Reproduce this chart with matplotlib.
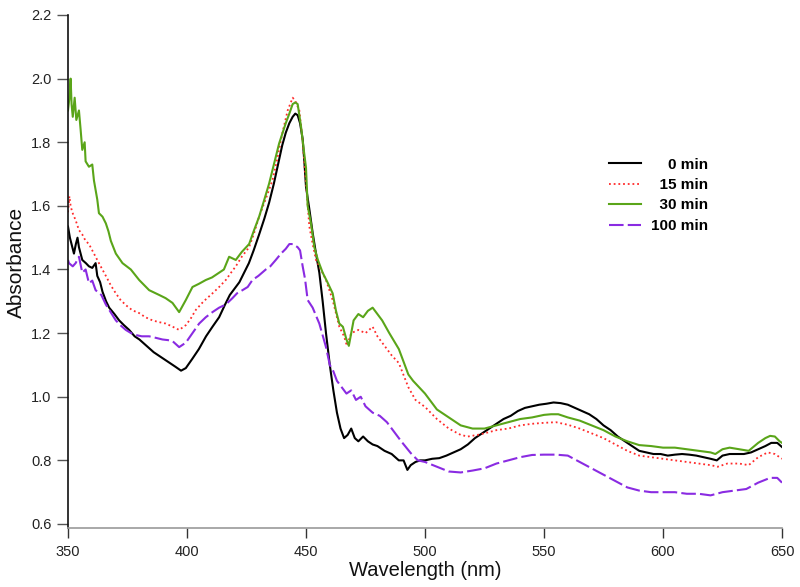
import matplotlib
matplotlib.use("Agg")
import matplotlib.pyplot as plt

plt.rcParams['font.family'] = ['Liberation Sans', 'DejaVu Sans']

# ---------------- data ----------------
wl_0 = [350, 350.8, 351.8, 352.5, 353.3, 354, 354.6, 356, 357.5, 358.8, 360.2, 361.6, 362.3, 363.5,
        364.5, 366, 367.3, 369.5, 371.5, 373.5, 375.7, 378, 380, 383, 386, 389, 392, 395, 397.5,
        399.5, 402.3, 405, 408, 410.7, 413.5, 416, 418, 420, 422, 424, 426, 428, 430.3, 432.5,
        434.5, 436.5, 438.7, 440, 441.5, 443, 444.4, 445.5, 446.5, 447.5, 448.6, 449.3, 450, 451.4,
        452.8, 454.2, 455.6, 457, 458.4, 460, 461.5, 463, 464.5, 466, 467.5, 469, 470.5, 472, 474,
        476, 478, 480, 483, 486, 489, 491, 492.6, 494, 496, 498, 500, 503, 506, 509, 512, 515, 518,
        521, 524, 527, 530, 533, 536, 539, 542, 545, 548, 551, 554, 557, 560, 563, 566, 569, 572,
        575, 578, 581, 584, 587, 590, 593, 596, 599, 602, 605, 608, 611, 614, 617, 620, 622.6, 625,
        628, 631, 634, 637, 640, 643, 645.5, 648, 650]
abs_0 = [1.535, 1.50, 1.47, 1.45, 1.48, 1.50, 1.47, 1.43, 1.42, 1.41, 1.405, 1.42, 1.38, 1.36,
         1.33, 1.30, 1.28, 1.26, 1.24, 1.225, 1.21, 1.19, 1.18, 1.16, 1.14, 1.125, 1.11, 1.095, 1.082,
         1.09, 1.12, 1.15, 1.19, 1.22, 1.25, 1.29, 1.32, 1.34, 1.36, 1.39, 1.42, 1.46, 1.51, 1.56,
         1.61, 1.67, 1.745, 1.79, 1.83, 1.86, 1.88, 1.89, 1.885, 1.86, 1.81, 1.74, 1.66, 1.59,
         1.515, 1.45, 1.39, 1.30, 1.20, 1.10, 1.02, 0.95, 0.90, 0.87, 0.88, 0.90, 0.87, 0.86, 0.875,
         0.86, 0.85, 0.845, 0.83, 0.82, 0.80, 0.80, 0.77, 0.785, 0.795, 0.80, 0.80, 0.805, 0.807, 0.815,
         0.825, 0.835, 0.85, 0.87, 0.885, 0.90, 0.915, 0.93, 0.94, 0.955, 0.965, 0.97, 0.975, 0.978,
         0.982, 0.98, 0.975, 0.965, 0.955, 0.945, 0.93, 0.91, 0.895, 0.875, 0.86, 0.845, 0.83, 0.825,
         0.82, 0.82, 0.815, 0.818, 0.82, 0.818, 0.815, 0.81, 0.805, 0.80, 0.815, 0.82, 0.82, 0.82,
         0.825, 0.835, 0.845, 0.855, 0.855, 0.842]

wl_15 = [350, 350.6, 351.1, 351.8, 353.2, 354.6, 356, 357.4, 358.8, 360.2, 361.6, 363, 365.9, 368,
         370.1, 372, 374.3, 377, 379.9, 382.5, 385.5, 388, 391.1, 394, 396.7, 399.5, 401.5, 403.7,
         407, 410.7, 413.5, 416.3, 418.5, 420.5, 423, 426.1, 428, 430.3, 433, 435.9, 438, 440.1, 442.3,
         444.4, 445.5, 447.2, 448.6, 450, 451.4, 452.8, 454.2, 456.3, 458.4, 461.2, 464, 466, 467.2,
         469, 472, 475, 478, 480, 483, 486, 489, 493, 496, 500, 505, 510, 515, 518, 522, 525, 530, 535,
         540, 545, 550, 555, 560, 565, 570, 575, 580, 585, 590, 595, 600, 605, 610, 615, 620, 623, 627,
         632, 636, 640, 644, 647, 650]
abs_15 = [1.58, 1.63, 1.60, 1.58, 1.555, 1.524, 1.51, 1.49, 1.48, 1.46, 1.44, 1.42, 1.38, 1.35,
          1.325, 1.305, 1.288, 1.272, 1.263, 1.25, 1.24, 1.235, 1.23, 1.22, 1.21, 1.225, 1.245, 1.273,
          1.30, 1.325, 1.345, 1.367, 1.39, 1.41, 1.44, 1.47, 1.51, 1.566, 1.62, 1.68, 1.75, 1.83, 1.90,
          1.94, 1.93, 1.90, 1.80, 1.67, 1.535, 1.48, 1.43, 1.40, 1.367, 1.304, 1.22, 1.19, 1.16,
          1.20, 1.21, 1.20, 1.22, 1.19, 1.16, 1.13, 1.106, 1.03, 0.99, 0.968, 0.93, 0.90, 0.88, 0.875,
          0.88, 0.885, 0.895, 0.90, 0.91, 0.915, 0.918, 0.92, 0.912, 0.90, 0.885, 0.87, 0.85, 0.83,
          0.815, 0.81, 0.805, 0.80, 0.795, 0.79, 0.785, 0.78, 0.79, 0.79, 0.785, 0.81, 0.825, 0.82, 0.805]

wl_30 = [350, 350.6, 351.1, 351.5, 352, 352.8, 353.5, 354.6, 355.3, 356, 357, 357.4, 358.8, 360.2,
         360.9, 362.3, 363, 364.5, 365.9, 367, 368, 370.1, 372.9, 376.4, 379.9, 384.1, 388.3, 391,
         393.9, 396.7, 399.5, 402.3, 405, 407.9, 410.5, 413.5, 415.5, 417.7, 420.5, 423, 426.1, 428,
         430.3, 432.5, 434.5, 436.5, 438.7, 441.5, 443, 444.4, 445.5, 446.5, 447.9, 449, 450, 450.7,
         452.1, 453.5, 455, 457, 459, 461.2, 462.6, 464, 465.5, 467, 468, 469, 470, 472, 474, 476,
         478, 480, 482, 485, 489, 493, 495, 500, 505, 510, 515, 520, 525, 530, 535, 540, 545, 550,
         553, 556, 560, 565, 570, 575, 580, 585, 590, 595, 600, 605, 610, 615, 620, 622, 625, 628, 632,
         636, 640, 643, 645, 647, 649, 650]
abs_30 = [1.90, 1.94, 2.00, 1.92, 1.88, 1.94, 1.87, 1.90, 1.84, 1.776, 1.80, 1.74, 1.723, 1.73,
          1.68, 1.62, 1.577, 1.566, 1.545, 1.52, 1.49, 1.45, 1.42, 1.40, 1.367, 1.335, 1.32, 1.31,
          1.295, 1.266, 1.304, 1.345, 1.355, 1.367, 1.375, 1.39, 1.40, 1.44, 1.43, 1.455, 1.48, 1.52,
          1.566, 1.62, 1.67, 1.73, 1.796, 1.86, 1.89, 1.92, 1.925, 1.92, 1.85, 1.78, 1.72, 1.60,
          1.545, 1.47, 1.43, 1.39, 1.36, 1.325, 1.27, 1.23, 1.22, 1.18, 1.16, 1.20, 1.24, 1.26, 1.25,
          1.27, 1.28, 1.26, 1.24, 1.20, 1.15, 1.07, 1.05, 1.01, 0.96, 0.935, 0.91, 0.90, 0.90, 0.91,
          0.92, 0.93, 0.935, 0.943, 0.945, 0.945, 0.935, 0.925, 0.91, 0.895, 0.875, 0.86, 0.848, 0.845,
          0.84, 0.84, 0.835, 0.83, 0.825, 0.82, 0.835, 0.84, 0.835, 0.83, 0.855, 0.87, 0.877, 0.875,
          0.86, 0.855]

wl_100 = [350, 350.4, 352, 353.2, 354.6, 356, 357.4, 358.8, 360.2, 361.6, 364, 365.9, 368, 370.1,
          372, 374.3, 376.5, 378.5, 381, 384.1, 387, 389.7, 392, 393.9, 396.7, 399.5, 402.3, 405.1,
          407.9, 410.7, 413.5, 416.3, 419.1, 421, 423.3, 425.5, 427.5, 430, 433.1, 435, 437.3, 439.5,
          441.5, 443, 444.4, 445.5, 446.5, 447.5, 448.6, 449.6, 450.7, 452.8, 455.6, 458.4, 460, 461.5,
          463, 465, 467, 469, 471, 473, 475, 478, 481, 484, 487, 490, 494, 497, 500, 505, 510, 515,
          520, 525, 530, 535, 540, 545, 550, 555, 560, 565, 570, 575, 580, 585, 590, 595, 600, 605, 610,
          615, 620, 625, 630, 635, 640, 645, 648, 650]
abs_100 = [1.43, 1.42, 1.41, 1.42, 1.44, 1.39, 1.40, 1.357, 1.365, 1.335, 1.32, 1.29, 1.265, 1.24,
           1.225, 1.21, 1.20, 1.194, 1.19, 1.19, 1.185, 1.18, 1.178, 1.175, 1.156, 1.17, 1.20, 1.23,
           1.25, 1.266, 1.28, 1.29, 1.31, 1.325, 1.335, 1.345, 1.367, 1.38, 1.40, 1.41, 1.43, 1.45,
           1.465, 1.48, 1.48, 1.475, 1.47, 1.46, 1.41, 1.37, 1.304, 1.28, 1.23, 1.156, 1.10, 1.08,
           1.05, 1.03, 1.01, 1.02, 0.99, 1.00, 0.97, 0.95, 0.94, 0.92, 0.89, 0.86, 0.823, 0.80, 0.795,
           0.78, 0.765, 0.762, 0.768, 0.775, 0.79, 0.80, 0.81, 0.817, 0.818, 0.818, 0.815, 0.795, 0.775,
           0.755, 0.735, 0.715, 0.705, 0.70, 0.70, 0.70, 0.695, 0.695, 0.69, 0.70, 0.705, 0.71, 0.73,
           0.745, 0.745, 0.73]

legend_labels = ["\u2007\u20070 min", "\u200715 min", "\u200730 min", "100 min"]
x_ticks = [350, 400, 450, 500, 550, 600, 650]
y_ticks = [0.6, 0.8, 1.0, 1.2, 1.4, 1.6, 1.8, 2.0, 2.2]

# ---------------- figure ----------------
W, H = 800, 587
fig = plt.figure(figsize=(W / 100, H / 100), dpi=100)
ax = fig.add_axes([68 / W, 1 - 528 / H, (782 - 68) / W, (528 - 15) / H])

ax.plot(wl_0, abs_0, color='black', lw=1.5, label=legend_labels[0])
ax.plot(wl_15, abs_15, color='#ff2a2a', lw=1.3, linestyle=(0, (1, 1.6)), label=legend_labels[1])
ax.plot(wl_30, abs_30, color='#5aa519', lw=1.5, label=legend_labels[2])
ax.plot(wl_100, abs_100, color='#8a2be2', lw=1.5, linestyle=(0, (7, 2)), label=legend_labels[3])

ax.set_xlim(350, 650)
ax.set_ylim(0.6 - 4 / 318, 2.2)
ax.set_xticks(x_ticks)
ax.set_xticklabels([str(v) for v in x_ticks])
ax.set_yticks(y_ticks)
ax.set_yticklabels([f"{v:.1f}" for v in y_ticks])

for s in ('top', 'right'):
    ax.spines[s].set_visible(False)
ax.spines['left'].set_color('#111111')
ax.spines['left'].set_linewidth(1.2)
ax.spines['bottom'].set_color('#9a9a9a')
ax.spines['bottom'].set_linewidth(1.2)

ax.tick_params(axis='y', direction='out', length=8, width=1.0, color='#555555',
               labelsize=10.5, pad=4, labelcolor='#222222')
ax.tick_params(axis='x', direction='out', length=7.5, width=1.0, color='#333333',
               labelsize=10.5, pad=5, labelcolor='#222222')

ax.set_xlabel("Wavelength (nm)", fontsize=14.5, labelpad=1, color='#111111')
ax.set_ylabel("Absorbance", fontsize=15, labelpad=1.5, color='#111111')
ax.yaxis.set_label_coords(-0.0588, 0.518)

leg = ax.legend(loc='upper left', bbox_to_anchor=(601 / W, 1 - 150 / H),
                bbox_transform=fig.transFigure, frameon=False, borderpad=0,
                handlelength=2.1, handletextpad=0.65, labelspacing=0.42,
                prop={'weight': 'bold', 'size': 11})

fig.savefig("out.png", dpi=100, facecolor='white')
